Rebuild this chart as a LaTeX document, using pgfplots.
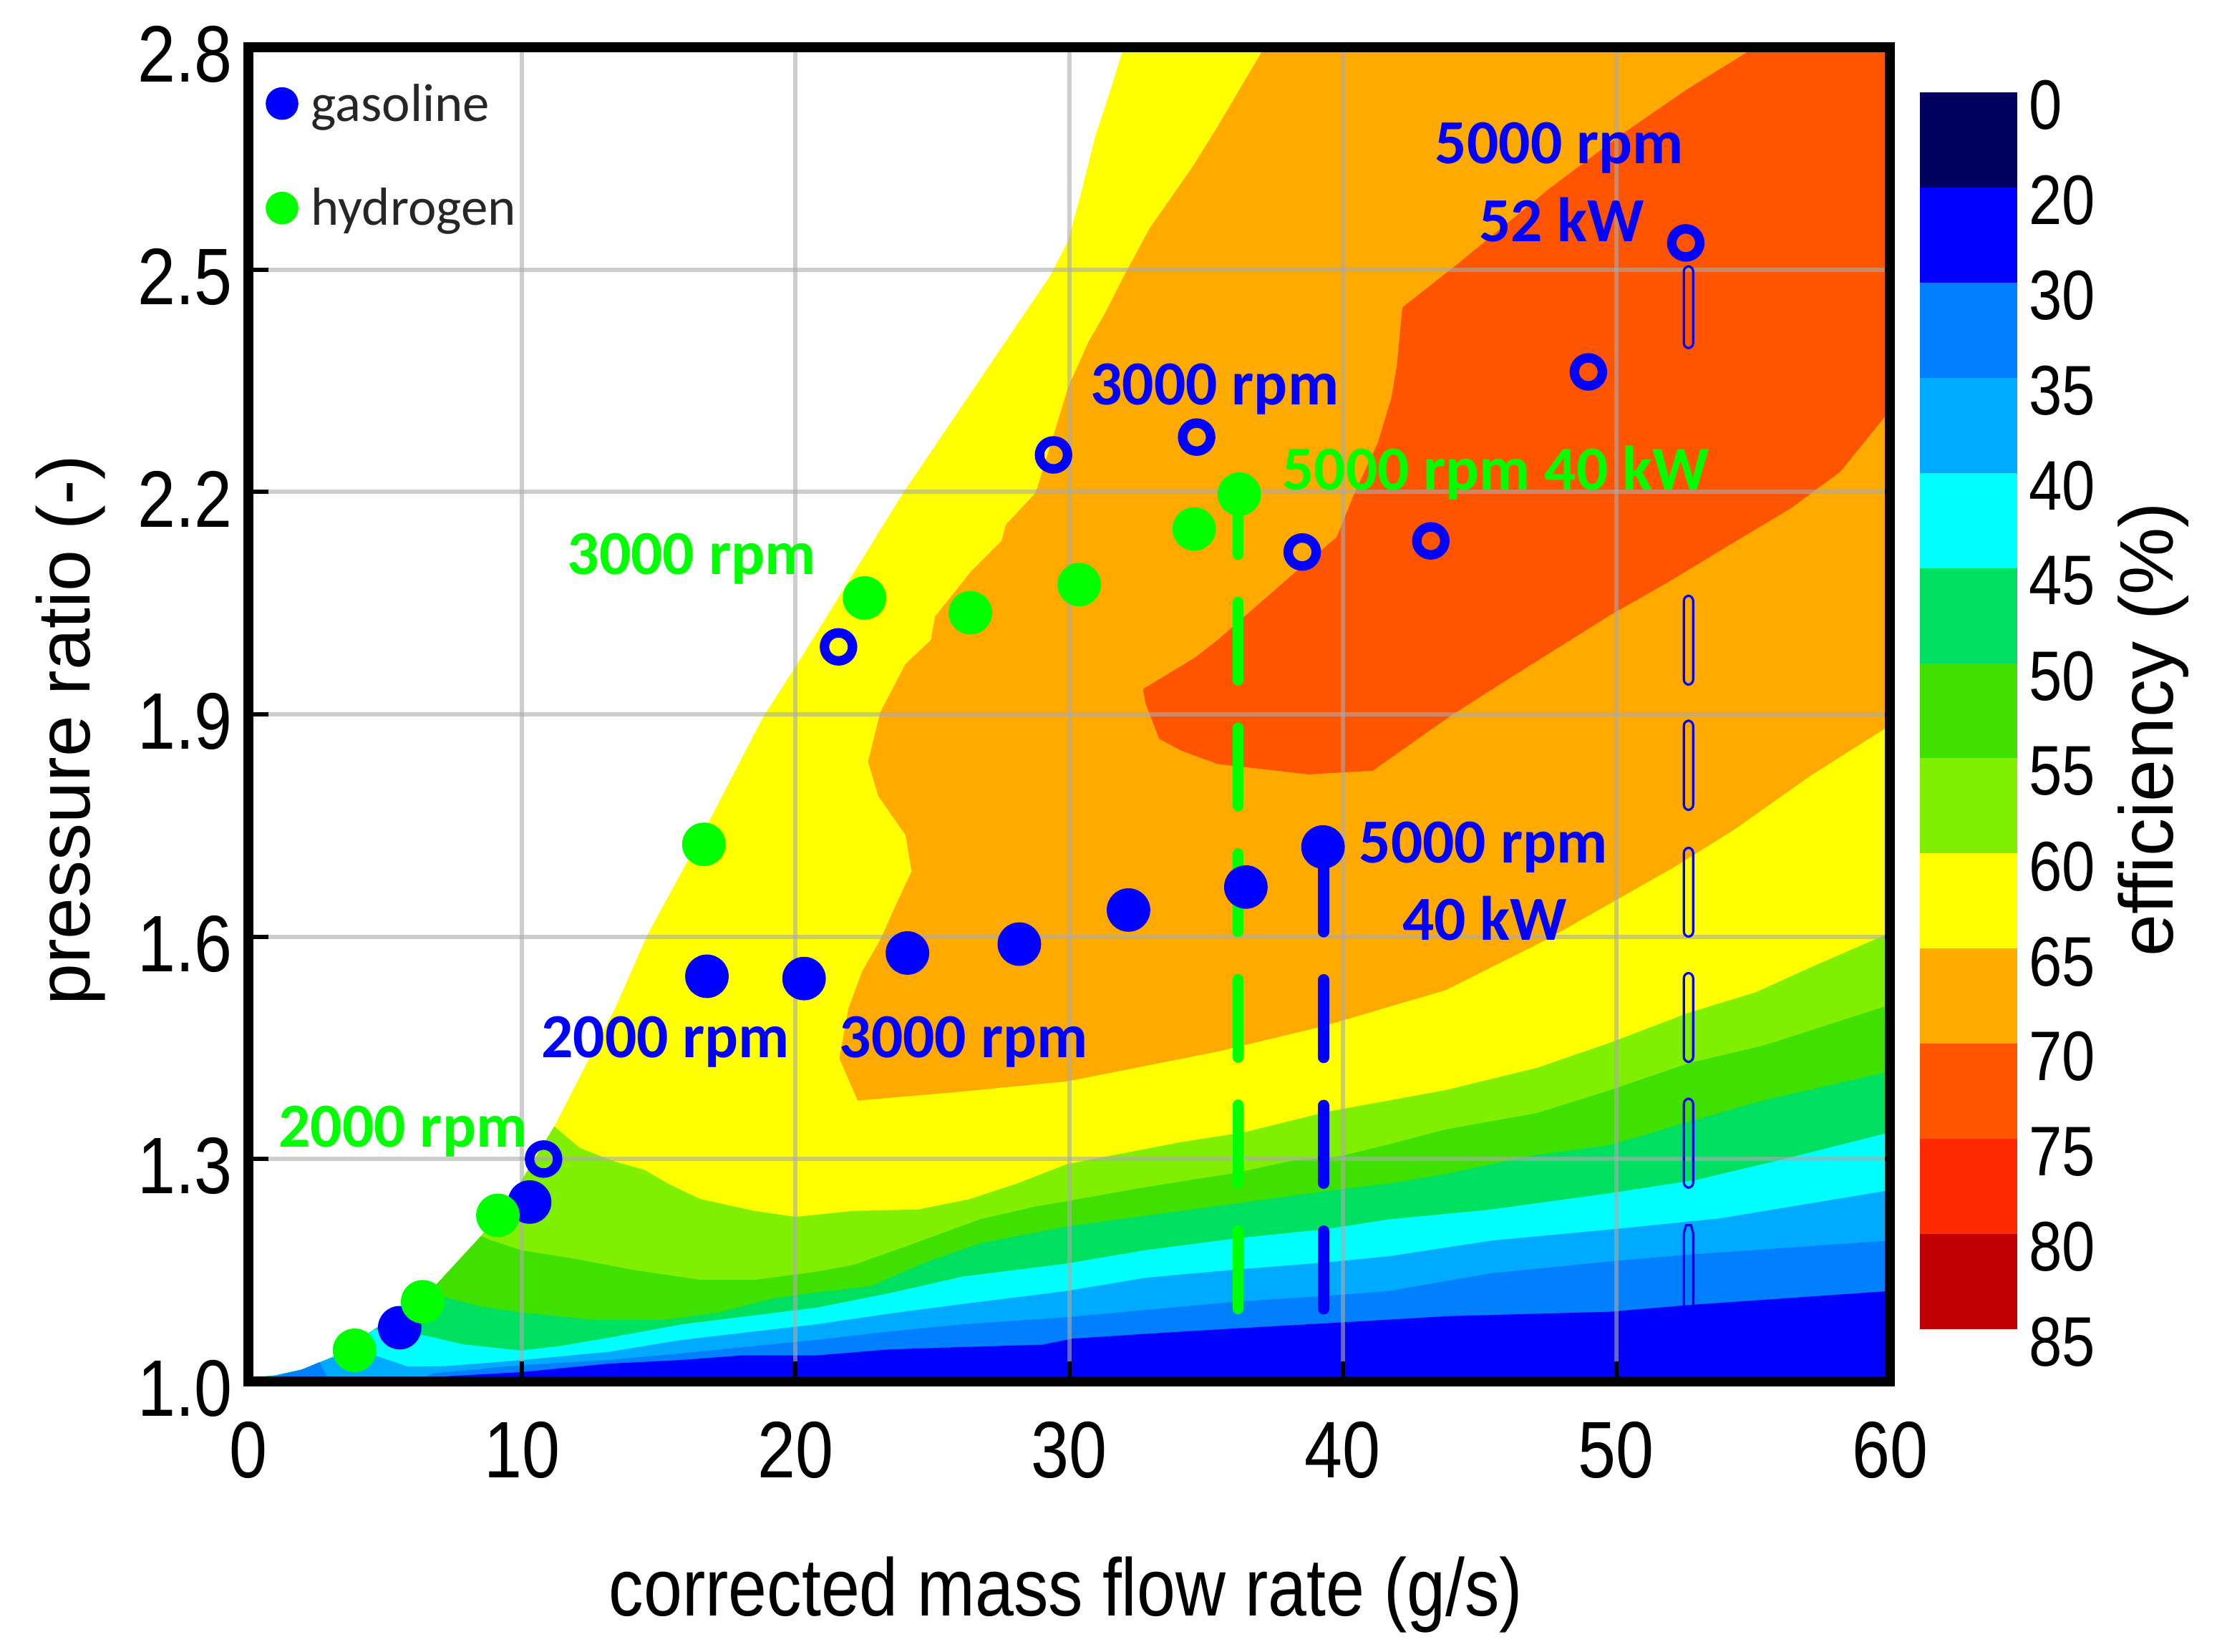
\documentclass[border=0pt]{standalone}
\usepackage{fontspec}
\setmainfont[FakeStretch=0.85]{Liberation Sans}
\newfontfamily\plainsans{Liberation Sans}
\newfontfamily\callout{Carlito}
\usepackage{pgfplots}
\pgfplotsset{compat=1.18}

\definecolor{cA}{HTML}{000060}
\definecolor{cB}{HTML}{0000FF}
\definecolor{cC}{HTML}{0080FF}
\definecolor{cD}{HTML}{00AAFF}
\definecolor{cE}{HTML}{00FFFF}
\definecolor{cF}{HTML}{00E060}
\definecolor{cG}{HTML}{40E000}
\definecolor{cH}{HTML}{80F000}
\definecolor{cI}{HTML}{FFFF00}
\definecolor{cJ}{HTML}{FFAA00}
\definecolor{cK}{HTML}{FF5500}
\definecolor{cL}{HTML}{FF2A00}
\definecolor{cM}{HTML}{C00000}
\definecolor{hgreen}{HTML}{00FF00}

\newcommand{\bigfont}{\fontsize{28}{30}\selectfont}
\newcommand{\tag}{\callout\bfseries\fontsize{21.9}{24}\selectfont}
\tikzset{rpm/.style={anchor=base, inner sep=0pt, yshift=-0.5pt, font=\tag}}
\tikzset{leg/.style={anchor=base west, inner sep=0pt, font=\callout\fontsize{18.7}{20}\selectfont, text=black!85}}
\pgfplotsset{dashbox/.style={cB, line width=0.8pt, rounded corners=1.8pt}}

\begin{document}
\begin{tikzpicture}
\path[use as bounding box] (-86.75pt,-94.5pt) rectangle (689.25pt,482.5pt);

% contour map with grid and frame
\begin{axis}[
  at={(0pt,0pt)}, anchor=origin,
  scale only axis, width=573.25pt, height=466pt,
  xmin=0, xmax=60, ymin=1, ymax=2.8,
  xtick={0,10,...,60},
  ytick={1,1.3,1.6,1.9,2.2,2.5,2.8},
  xtick pos=bottom, ytick pos=left, tick align=inside,
  major tick length=7pt,
  tick style={black, line width=1.5pt},
  axis line style={black, line width=3.5pt},
  grid=major,
  grid style={color=black!33, opacity=0.6, line width=1.5pt},
  axis on top,
  /pgf/number format/assume math mode=true,
  yticklabel style={/pgf/number format/fixed, /pgf/number format/fixed zerofill, /pgf/number format/precision=1},
  ticklabel style={font=\bigfont},
  xticklabel style={yshift=-10.5pt},
  yticklabel style={yshift=-2.5pt, xshift=-2pt},
  xlabel={corrected mass flow rate (g/s)},
  ylabel={pressure ratio (-)},
  xlabel style={at={(axis description cs:0.505,0)}, anchor=center, xshift=-4pt, yshift=-74.5pt, font=\fontsize{28.5}{32}\selectfont},
  ylabel style={at={(axis description cs:0,0.488)}, anchor=center, yshift=62pt, font=\plainsans\fontsize{26}{30}\selectfont},
]
\addplot[fill=cI, draw=none] coordinates {
 (0,1) (0.15,1.005) (0.96,1.008) (1.96,1.016) (3.03,1.032) (5,1.08) (6.9,1.132) (8.5,1.196) (9.97,1.27) (11.18,1.344)
 (13.4,1.503) (14.58,1.602) (16.76,1.75) (18.84,1.898) (20.1,1.97) (23.94,2.199) (28.45,2.445) (29.28,2.49)
 (29.95,2.537) (30.45,2.605) (30.95,2.679) (31.45,2.735) (32.0,2.8) (60,2.8) (60,1)} -- cycle;
\addplot[fill=cJ, draw=none] coordinates {
 (37.14,2.8) (35.38,2.69) (34.46,2.636) (32.95,2.556) (32.04,2.494) (31.28,2.439) (30.7,2.402) (29.95,2.34)
 (29.45,2.279) (28.78,2.199) (27.69,2.156) (27.53,2.134) (26.44,2.094) (25.1,2.032) (24.94,2.0) (24.02,1.968)
 (23.1,1.903) (22.65,1.836) (23.02,1.79) (24.02,1.737) (24.24,1.688) (23.69,1.645) (23.1,1.596) (22.43,1.553)
 (21.93,1.503) (21.6,1.436) (22.27,1.379) (25.77,1.39) (29.95,1.405) (35.42,1.445) (39.26,1.479) (43.77,1.528)
 (47.44,1.596) (49.78,1.645) (52.12,1.694) (54.29,1.744) (57.13,1.818) (60,1.885) (60,2.8)} -- cycle;
\addplot[fill=cK, draw=none] coordinates {
 (55.08,2.8) (52.58,2.743) (50.18,2.682) (47.58,2.61) (44.18,2.507) (42.18,2.449) (41.98,2.371) (41.78,2.327)
 (41.28,2.266) (40.38,2.194) (39.78,2.139) (38.18,2.089) (35.42,2.0) (34.62,1.977) (32.7,1.934) (32.79,1.915)
 (33.29,1.867) (34.1,1.851) (35.42,1.833) (38.76,1.819) (41.1,1.824) (43.94,1.898) (45.98,1.946) (49.78,2.034)
 (51.88,2.078) (53.98,2.125) (56.38,2.178) (58.18,2.227) (60,2.31) (60,2.8)} -- cycle;
\addplot[fill=cH, draw=none] coordinates {
 (0,1) (0.15,1.005) (0.96,1.008) (1.96,1.016) (3.03,1.032) (5,1.08) (6.9,1.132) (8.5,1.196) (9.97,1.27) (11.18,1.344)
 (12.11,1.315) (13.31,1.2976) (14.5,1.285) (15.32,1.267) (16.52,1.246) (18.5,1.23) (20,1.222) (22.1,1.23) (24.5,1.232)
 (26.37,1.246) (28.1,1.267) (29.91,1.293) (31.45,1.304) (34.12,1.323) (36.39,1.336) (39.46,1.364) (43.77,1.393)
 (47.1,1.423) (49.78,1.457) (52.62,1.497) (55.1,1.525) (57.13,1.559) (60,1.605) (60,1)} -- cycle;
\addplot[fill=cG, draw=none] coordinates {
 (0,1) (0.15,1.005) (0.96,1.008) (1.96,1.016) (3.03,1.032) (5,1.08) (6.9,1.132) (8.5,1.196)
 (8.9,1.19) (9.97,1.177) (11.84,1.166) (13.98,1.151) (16.52,1.137) (18.5,1.137) (20.76,1.148) (22.1,1.157) (24.1,1.183)
 (26.77,1.219) (28.78,1.236) (30.1,1.2444) (32.78,1.262) (36.12,1.2815) (38.13,1.2976) (39.93,1.304) (41.71,1.32)
 (43.77,1.34) (47.1,1.362) (49.78,1.393) (52.62,1.429) (55.46,1.454) (60,1.508) (60,1)} -- cycle;
\addplot[fill=cF, draw=none] coordinates {
 (0,1) (0.15,1.005) (0.96,1.008) (1.96,1.016) (3.03,1.032) (5,1.08) (6.5,1.12)
 (6.9,1.116) (8.5,1.101) (9.97,1.093) (12.65,1.083) (15.18,1.083) (17.19,1.093) (19.19,1.112) (20.76,1.12) (22.76,1.1285)
 (24.77,1.161) (26.77,1.1865) (29.91,1.209) (32.78,1.2235) (36.12,1.24) (39.46,1.2573) (41.71,1.267) (43.77,1.28)
 (47,1.305) (49.78,1.319) (52.62,1.35) (55.46,1.38) (60,1.418) (60,1)} -- cycle;
\addplot[fill=cE, draw=none] coordinates {
 (0,1) (0.15,1.005) (0.96,1.008) (1.96,1.016) (3.03,1.032) (4.6,1.07)
 (6.37,1.0625) (7.84,1.05) (9.97,1.0416) (11.44,1.048) (13.18,1.059) (15.85,1.077) (20.76,1.0995) (23.43,1.119)
 (26.1,1.1414) (29.91,1.159) (32.78,1.177) (36.12,1.193) (39.46,1.2058) (41.71,1.2187) (45.44,1.232) (49.78,1.254)
 (52.95,1.272) (56.13,1.3) (60,1.336) (60,1)} -- cycle;
\addplot[fill=cD, draw=none] coordinates {
 (0,1) (0.15,1.005) (0.96,1.008) (1.96,1.016) (3.03,1.032) (4.63,1.035)
 (5.83,1.02) (7.17,1.0206) (9.97,1.0287) (13.18,1.04) (15.85,1.056) (20.76,1.077) (23.43,1.0915) (26.1,1.1044)
 (29.91,1.122) (32.78,1.1398) (36.12,1.151) (39.46,1.1607) (41.71,1.169) (45.44,1.19) (49.78,1.205) (53.79,1.22)
 (60,1.258) (60,1)} -- cycle;
\addplot[fill=cC, draw=none] coordinates {(0.96,1.004) (1.1,1.008) (1.96,1.016) (2.6,1.026) (2.9,1.004) (2.9,1) (0.96,1)} -- cycle;
\addplot[fill=cC, draw=none] coordinates {
 (6,1) (6.77,1.011) (9.97,1.022) (13.18,1.029) (15.85,1.038) (20.76,1.056) (23.43,1.0673) (26.1,1.077) (29.91,1.0867)
 (32.78,1.0963) (36.12,1.1076) (39.46,1.1156) (41.71,1.122) (45.44,1.146) (49.78,1.162) (52.62,1.171) (60,1.19) (60,1)} -- cycle;
\addplot[fill=cB, draw=none] coordinates {
 (6.5,1) (6.77,1.006) (9.97,1.0126) (13.18,1.024) (15.85,1.029) (18,1.035) (20.76,1.0351) (23.43,1.0432) (26.1,1.0464)
 (29.04,1.0496) (30.1,1.0577) (33.45,1.0657) (36.39,1.0722) (39.46,1.0786) (41.71,1.0834) (43.77,1.088) (49.78,1.094)
 (52.62,1.103) (60,1.122) (60,1)} -- cycle;
\end{axis}

% operating points and annotations
\begin{axis}[
  at={(0pt,0pt)}, anchor=origin,
  scale only axis, width=573.25pt, height=466pt,
  xmin=0, xmax=60, ymin=1, ymax=2.8,
  hide axis,
]
% full-load lines
\addplot[hgreen, line width=3.8pt, line cap=round, dash pattern=on 27.3pt off 16.6pt] coordinates {(36.17,1.098) (36.17,2.197)};
\addplot[cB, line width=4pt, line cap=round, dash pattern=on 27.1pt off 16.8pt] coordinates {(39.31,1.098) (39.31,1.721)};
% 52 kW line, outlined dashes
\addplot[dashbox] coordinates {(52.47,2.5045) (52.81,2.5045) (52.81,2.394) (52.47,2.394)} -- cycle;
\addplot[dashbox] coordinates {(52.47,2.06) (52.81,2.06) (52.81,1.94) (52.47,1.94)} -- cycle;
\addplot[dashbox] coordinates {(52.47,1.8915) (52.81,1.8915) (52.81,1.771) (52.47,1.771)} -- cycle;
\addplot[dashbox] coordinates {(52.47,1.72) (52.81,1.72) (52.81,1.6) (52.47,1.6)} -- cycle;
\addplot[dashbox] coordinates {(52.47,1.551) (52.81,1.551) (52.81,1.431) (52.47,1.431)} -- cycle;
\addplot[dashbox] coordinates {(52.47,1.3815) (52.81,1.3815) (52.81,1.2614) (52.47,1.2614)} -- cycle;
\addplot[cB, line width=0.8pt] coordinates {(52.47,1.1) (52.47,1.2) (52.55,1.2108) (52.73,1.2108) (52.81,1.2) (52.81,1.1)};
% gasoline, solid
\addplot[only marks, color=cB, mark=*, mark size=7.4pt, mark options={fill=cB}] coordinates {
 (5.53,1.0725) (10.28,1.242) (16.76,1.5466) (20.31,1.5435) (24.09,1.578) (28.18,1.59) (32.17,1.636) (36.46,1.667) (39.28,1.721)};
% gasoline, full load rings
\addplot[only marks, color=cB, mark=o, mark size=4.9pt, mark options={line width=3.3pt}] coordinates {
 (10.79,1.30) (21.57,1.991) (29.43,2.25) (34.66,2.274) (38.52,2.119) (43.22,2.134) (48.98,2.362) (52.54,2.536)};
% hydrogen
\addplot[only marks, color=hgreen, mark=*, mark size=7.4pt, mark options={fill=hgreen}] coordinates {
 (3.88,1.042) (6.37,1.1075) (9.12,1.224) (16.65,1.7246) (22.52,2.057) (26.39,2.037) (30.37,2.075) (34.57,2.15) (36.22,2.197)};
% legend
\addplot[only marks, color=cB, mark=*, mark size=5.5pt, mark options={fill=cB}] coordinates {(1.23,2.724)};
\addplot[only marks, color=hgreen, mark=*, mark size=5.5pt, mark options={fill=hgreen}] coordinates {(1.23,2.583)};
\node[leg] at (axis cs:2.28,2.7) {gasoline};
\node[leg] at (axis cs:2.28,2.56) {hydrogen};
% labels
\node[rpm, text=cB] at (axis cs:15.25,1.4388) {2000 rpm};
\node[rpm, text=cB] at (axis cs:26.14,1.4388) {3000 rpm};
\node[rpm, text=hgreen] at (axis cs:5.65,1.3179) {2000 rpm};
\node[rpm, text=hgreen] at (axis cs:16.2,2.091) {3000 rpm};
\node[rpm, text=cB] at (axis cs:35.32,2.32) {3000 rpm};
\node[rpm, text=hgreen] at (axis cs:45.6,2.205) {5000 rpm 40 kW};
\node[rpm, text=cB] at (axis cs:47.92,2.6446) {5000 rpm};
\node[rpm, text=cB] at (axis cs:48,2.5394) {52 kW};
\node[rpm, text=cB] at (axis cs:45.14,1.7018) {5000 rpm};
\node[rpm, text=cB] at (axis cs:45.19,1.5977) {40 kW};
\end{axis}

% colour scale
\begin{axis}[
  at={(583.75pt,18.25pt)}, anchor=south west,
  scale only axis, width=34pt, height=432pt,
  xmin=0, xmax=1, ymin=0, ymax=13, y dir=reverse,
  axis line style={draw=none},
  xtick=\empty,
  ytick={0,1,...,13},
  yticklabels={0,20,30,35,40,45,50,55,60,65,70,75,80,85},
  ytick pos=right, yticklabel pos=right,
  major tick length=0pt,
  /pgf/number format/assume math mode=true,
  ticklabel style={font=\fontsize{24.5}{27}\selectfont, yshift=-4.5pt, xshift=0.5pt},
  ylabel={efficiency (\%)},
  ylabel style={at={(axis description cs:1,0.5)}, anchor=center, xshift=-6.5pt, yshift=-47.5pt, font=\plainsans\fontsize{26.5}{30}\selectfont},
]
\addplot[fill=cA, draw=none] coordinates {(0,0) (1,0) (1,1) (0,1)} -- cycle;
\addplot[fill=cB, draw=none] coordinates {(0,1) (1,1) (1,2) (0,2)} -- cycle;
\addplot[fill=cC, draw=none] coordinates {(0,2) (1,2) (1,3) (0,3)} -- cycle;
\addplot[fill=cD, draw=none] coordinates {(0,3) (1,3) (1,4) (0,4)} -- cycle;
\addplot[fill=cE, draw=none] coordinates {(0,4) (1,4) (1,5) (0,5)} -- cycle;
\addplot[fill=cF, draw=none] coordinates {(0,5) (1,5) (1,6) (0,6)} -- cycle;
\addplot[fill=cG, draw=none] coordinates {(0,6) (1,6) (1,7) (0,7)} -- cycle;
\addplot[fill=cH, draw=none] coordinates {(0,7) (1,7) (1,8) (0,8)} -- cycle;
\addplot[fill=cI, draw=none] coordinates {(0,8) (1,8) (1,9) (0,9)} -- cycle;
\addplot[fill=cJ, draw=none] coordinates {(0,9) (1,9) (1,10) (0,10)} -- cycle;
\addplot[fill=cK, draw=none] coordinates {(0,10) (1,10) (1,11) (0,11)} -- cycle;
\addplot[fill=cL, draw=none] coordinates {(0,11) (1,11) (1,12) (0,12)} -- cycle;
\addplot[fill=cM, draw=none] coordinates {(0,12) (1,12) (1,13) (0,13)} -- cycle;
\end{axis}
\end{tikzpicture}
\end{document}
